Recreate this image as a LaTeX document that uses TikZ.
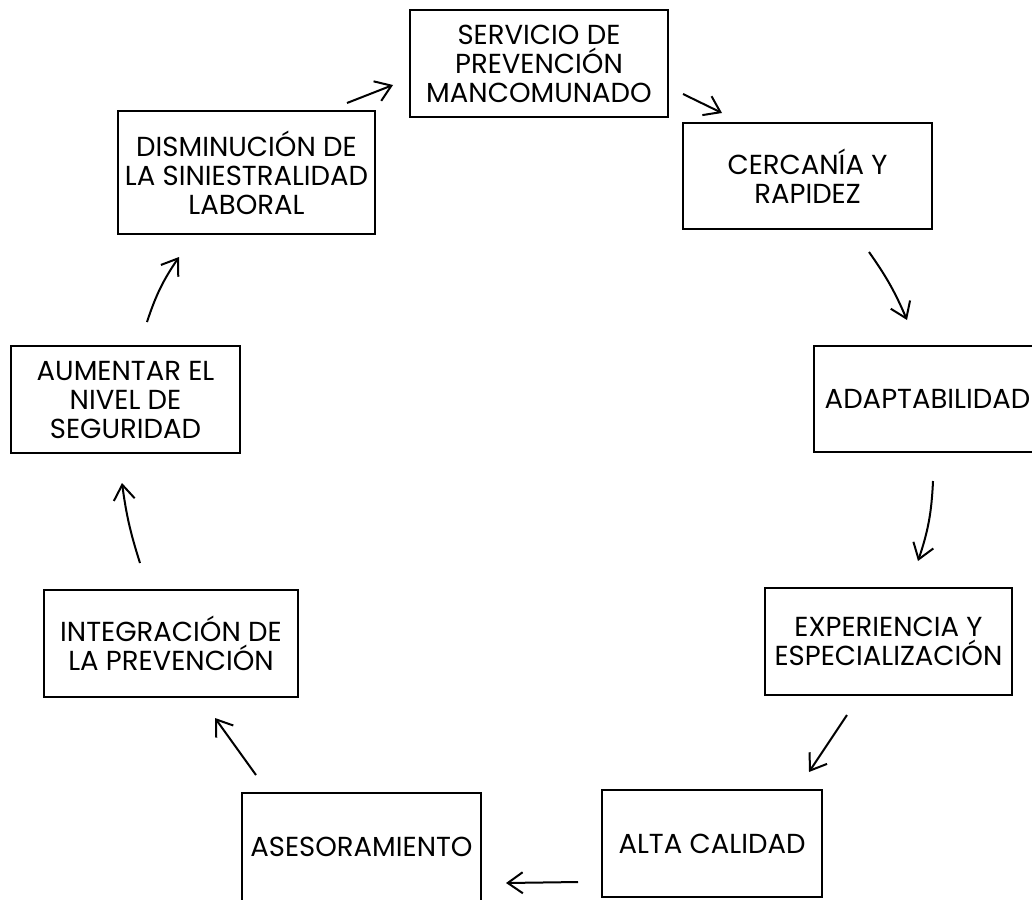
\documentclass[tikz,border=0pt]{standalone}
\usepackage{fontspec}
\setmainfont{Poppins}
\usetikzlibrary{arrows.meta}
\tikzset{
  box/.style={draw, line width=2.3pt, align=center, inner sep=0pt,
    font=\fontsize{27.5}{29}\selectfont},
  flow/.style={line width=2pt, -{Straight Barb[length=15pt,width=21pt]}}
}
\begin{document}
\begin{tikzpicture}[x=1pt,y=1pt]
\useasboundingbox (0,0) rectangle (1032,-899);
\clip (0,0) rectangle (1032,-899);
\fill[white] (0,0) rectangle (1032,-899);
% boxes
\node[box, minimum width=258pt, minimum height=107pt] (serv) at (539,-63.5) {SERVICIO DE\\PREVENCIÓN\\MANCOMUNADO};
\node[box, minimum width=249pt, minimum height=106pt] (cerc) at (807.5,-176) {CERCANÍA Y\\RAPIDEZ};
\node[box, minimum width=227pt, minimum height=106pt] (adapt) at (927.5,-399) {ADAPTABILIDAD};
\node[box, minimum width=247pt, minimum height=107pt] (exp) at (888.5,-641.5) {EXPERIENCIA Y\\ESPECIALIZACIÓN};
\node[box, minimum width=220pt, minimum height=107pt] (alta) at (712,-843.5) {ALTA CALIDAD};
\node[box, minimum width=239pt, minimum height=112pt] (ases) at (361.5,-849) {\raisebox{5pt}{ASESORAMIENTO}};
\node[box, minimum width=254pt, minimum height=107pt] (integ) at (171,-643.5) {INTEGRACIÓN DE\\LA PREVENCIÓN};
\node[box, minimum width=229pt, minimum height=107pt] (aument) at (125.5,-399.5) {AUMENTAR EL\\NIVEL DE\\SEGURIDAD};
\node[box, minimum width=257pt, minimum height=123pt] (dism) at (246.5,-172.5) {DISMINUCIÓN DE\\LA SINIESTRALIDAD\\LABORAL};
% arrow end points
\coordinate (a1s) at (347,-103); \coordinate (a1e) at (393,-85);
\coordinate (a2s) at (683,-94);  \coordinate (a2e) at (722,-113);
\coordinate (a3s) at (869,-252); \coordinate (a3e) at (907,-320);
\coordinate (a4s) at (933,-481); \coordinate (a4e) at (918,-561);
\coordinate (a5s) at (847,-715); \coordinate (a5e) at (809,-772);
\coordinate (a6s) at (578,-882); \coordinate (a6e) at (506,-883);
\coordinate (a7s) at (256,-775); \coordinate (a7e) at (215,-718);
\coordinate (a8s) at (140,-563); \coordinate (a8e) at (122,-483);
\coordinate (a9s) at (147,-322); \coordinate (a9e) at (179,-257);
% arrows
\draw[flow] (a1s) -- (a1e);
\draw[flow] (a2s) -- (a2e);
\draw[flow] (a3s) to[bend left=6] (a3e);
\draw[flow] (a4s) to[bend left=8] (a4e);
\draw[flow] (a5s) -- (a5e);
\draw[flow] (a6s) -- (a6e);
\draw[flow] (a7s) -- (a7e);
\draw[flow] (a8s) to[bend left=5] (a8e);
\draw[flow] (a9s) to[bend left=8] (a9e);
\end{tikzpicture}
\end{document}
